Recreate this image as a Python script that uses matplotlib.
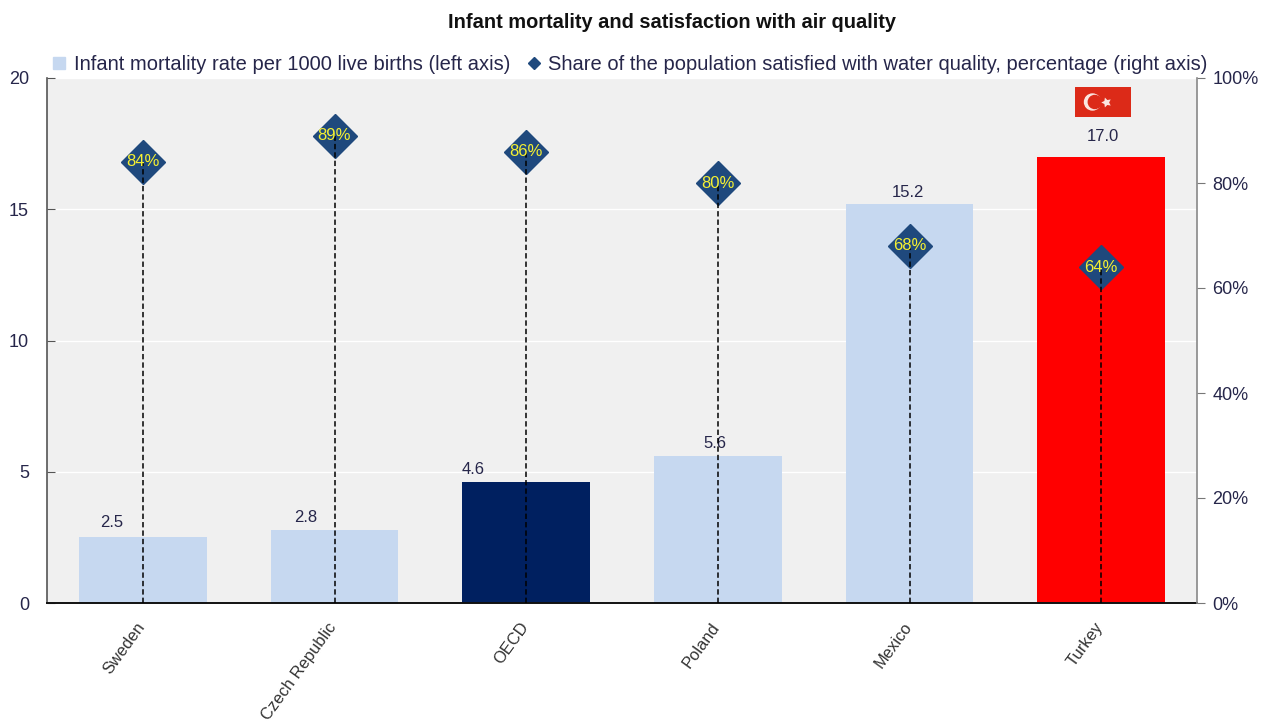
import matplotlib
matplotlib.use("Agg")
import matplotlib.pyplot as plt
from matplotlib.lines import Line2D
from matplotlib.patches import Circle, Rectangle
from matplotlib.transforms import ScaledTranslation

plt.rcParams['font.family'] = ['Liberation Sans', 'DejaVu Sans']

countries = ["Sweden", "Czech Republic", "OECD", "Poland", "Mexico", "Turkey"]
mortality = [2.5, 2.8, 4.6, 5.6, 15.2, 17.0]
satisfied = [84, 89, 86, 80, 68, 64]
bar_colors = ["#c6d8f0", "#c6d8f0", "#002060", "#c6d8f0", "#c6d8f0", "#ff0000"]

W, H = 1270, 724
text_col = "#26264a"
navy = "#1f497d"

fig = plt.figure(figsize=(W/100, H/100), dpi=100)
ax = fig.add_axes([47/W, 1-603/H, 1150/W, 525/H])
ax.set_facecolor("#f0f0f0")

xs = list(range(len(countries)))
ax.bar(xs, mortality, width=0.667, color=bar_colors, zorder=2)
ax.set_xlim(-0.5, 5.5)
ax.set_ylim(0, 20)
ax.set_yticks([0, 5, 10, 15, 20])
ax.yaxis.grid(True, color="white", lw=1, zorder=1)
ax.set_axisbelow(True)
ax.set_xticks(xs)
ax.set_xticklabels(countries, rotation=54, ha="right", rotation_mode="anchor",
                   fontsize=11.9, color="#333333")
ax.tick_params(axis="x", length=0, pad=12)
ax.tick_params(axis="y", direction="in", length=6, color="#555555", labelsize=13,
               labelcolor=text_col, pad=13)
shift = ScaledTranslation(-7/100, 0, fig.dpi_scale_trans)
for lab in ax.get_xticklabels():
    lab.set_transform(lab.get_transform() + shift)
ax.spines["top"].set_visible(False)
ax.spines["left"].set_color("#555555")
ax.spines["left"].set_linewidth(1.2)
ax.spines["bottom"].set_color("#111111")
ax.spines["bottom"].set_linewidth(1.4)
ax.spines["right"].set_visible(False)

# bar values; some sit off-centre to clear the dashed stems
label_dx = [-0.165, -0.15, -0.275, -0.015, -0.01, 0.01]
label_dy = [5.5, 3.5, 3.5, 3.5, 3, 9]
for x, v, dx, dy in zip(xs, mortality, label_dx, label_dy):
    ax.annotate(f"{v:.1f}", (x + dx, v), xytext=(0, dy), textcoords="offset points",
                ha="center", va="bottom", fontsize=12, color=text_col, zorder=6)

# right axis: satisfaction share with dashed stems and diamonds
ax2 = ax.twinx()
ax2.set_ylim(0, 100)
ax2.set_yticks(range(0, 101, 20))
ax2.set_yticklabels([f"{t}%" for t in range(0, 101, 20)])
ax2.tick_params(axis="y", direction="out", length=6, color="#777777", labelsize=13,
                labelcolor=text_col, pad=5)
for s in ["top", "left", "bottom"]:
    ax2.spines[s].set_visible(False)
ax2.spines["right"].set_color("#888888")
ax2.spines["right"].set_linewidth(1.2)

ax2.plot(xs, satisfied, ls="none", marker="D", ms=22.4, mfc=navy, mec=navy, zorder=3)
ax2.vlines(xs, 0, satisfied, color="black", lw=1.1, linestyles=(0, (3.5, 2)), zorder=4)
for x, v in zip(xs, satisfied):
    ax2.text(x, v, f"{v}%", ha="center", va="center", fontsize=12,
             color="#f5f032", zorder=5)

fig.text(672/W, 1-22/H, "Infant mortality and satisfaction with air quality",
         ha="center", va="center", fontsize=14.4, fontweight="bold", color="#111111")

handles = [
    Line2D([], [], ls="none", marker="s", ms=8.5, color="#c6d8f0",
           label="Infant mortality rate per 1000 live births (left axis)"),
    Line2D([], [], ls="none", marker="D", ms=6, color=navy,
           label="Share of the population satisfied with water quality, percentage (right axis)"),
]
fig.legend(handles=handles, loc="center", bbox_to_anchor=(627.5/W, 1-65/H), ncol=2,
           frameon=False, fontsize=14.5, labelcolor=text_col, handletextpad=0.1,
           columnspacing=0.6, handlelength=1.2, borderaxespad=0, borderpad=0)

# Turkish flag above the last bar
flag = fig.add_axes([1075/W, 1-117/H, 56/W, 30/H])
flag.set_xlim(0, 56)
flag.set_ylim(0, 30)
flag.axis("off")
flag.add_patch(Rectangle((0, 0), 56, 30, color="#dc2a18"))
flag.add_patch(Circle((17.5, 15), 8, color="#fbe6e0"))
flag.add_patch(Circle((19.8, 15), 6.5, color="#dc2a18"))
flag.plot([31], [15], marker=(5, 1, 90), ms=7.5, color="#fbe6e0", mew=0)

fig.savefig("out.png", dpi=100)
